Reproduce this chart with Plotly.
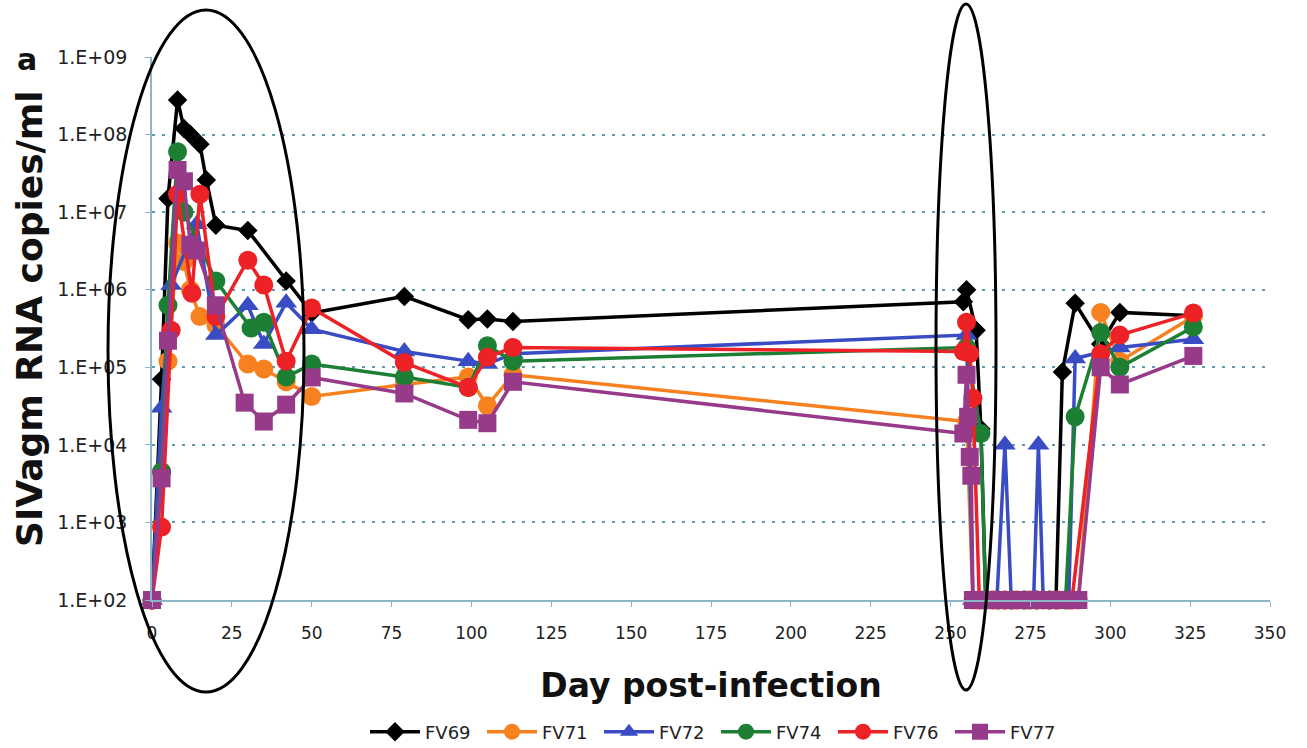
import plotly.graph_objects as go

# ---- viral load data (SIVagm RNA copies/ml) by day post-infection ----
fv69_days = [0, 3, 5, 8, 10, 12, 15, 17, 20, 30, 42, 50, 79, 99, 105, 113,
             254, 255, 258, 259.5, 261, 265, 269, 273, 277, 281, 283, 285, 289, 297, 303, 326]
fv69_vals = [1e2, 7e4, 1.5e7, 2.8e8, 1.2e8, 1.0e8, 7.5e7, 2.6e7, 6.8e6, 5.8e6, 1.3e6, 5e5, 8.2e5, 4.1e5, 4.2e5, 3.9e5,
             7e5, 1.0e6, 3e5, 1.6e4, 1e2, 1e2, 1e2, 1e2, 1e2, 1e2, 1e2, 8.7e4, 6.7e5, 2e5, 5.1e5, 4.6e5]

fv71_days = [0, 3, 5, 8, 10, 12, 15, 20, 30, 35, 42, 50, 79, 99, 105, 113,
             255, 257, 260, 264, 267, 270, 274, 277, 281, 284, 287, 290, 297, 303, 326]
fv71_vals = [1e2, 4.5e3, 1.2e5, 4e6, 2.3e6, 1e6, 4.5e5, 3.5e5, 1.1e5, 9.5e4, 6.5e4, 4.2e4, 6e4, 7.5e4, 3.2e4, 8e4,
             2e4, 1e2, 1e2, 1e2, 1e2, 1e2, 1e2, 1e2, 1e2, 1e2, 1e2, 1e2, 5.1e5, 1.2e5, 4.5e5]

fv72_days = [0, 3, 6, 14, 20, 30, 35, 42, 50, 79, 99, 105, 113,
             255, 257, 261, 264.5, 267, 269, 273, 276, 277.5, 279, 282, 285, 287, 289, 303, 326]
fv72_vals = [1e2, 3e4, 1.15e6, 7e6, 2.6e5, 6.3e5, 2e5, 6.8e5, 3.1e5, 1.6e5, 1.2e5, 1.1e5, 1.5e5,
             2.6e5, 1e2, 1e2, 1e2, 1e4, 1e2, 1e2, 1e2, 1e4, 1e2, 1e2, 1e2, 1e2, 1.3e5, 1.8e5, 2.3e5]

fv74_days = [0, 3, 5, 8, 10, 20, 31, 35, 42, 50, 79, 99, 105, 113,
             255, 259.5, 261, 265, 269, 273, 277, 281, 286, 289, 297, 303, 326]
fv74_vals = [1e2, 4.5e3, 6.3e5, 6e7, 1e7, 1.3e6, 3.2e5, 3.8e5, 7.5e4, 1.1e5, 7.5e4, 5.5e4, 1.9e5, 1.2e5,
             1.8e5, 1.4e4, 1e2, 1e2, 1e2, 1e2, 1e2, 1e2, 1e2, 2.3e4, 2.8e5, 1e5, 3.3e5]

fv76_days = [0, 3, 6, 8, 12.5, 15, 20, 30, 35, 42, 50, 79, 99, 105, 113,
             254, 255, 256, 257, 259, 263, 267, 271, 275, 279, 283, 288, 297, 303, 326]
fv76_vals = [1e2, 8.7e2, 3e5, 1.7e7, 9e5, 1.7e7, 4.5e5, 2.4e6, 1.15e6, 1.2e5, 5.8e5, 1.15e5, 5.5e4, 1.35e5, 1.8e5,
             1.6e5, 3.8e5, 1.5e5, 4e4, 1e2, 1e2, 1e2, 1e2, 1e2, 1e2, 1e2, 1e2, 1.5e5, 2.6e5, 5e5]

fv77_days = [0, 3, 5, 8, 10, 12, 14, 20, 29, 35, 42, 50, 79, 99, 105, 113,
             254, 255, 255.5, 256, 256.5, 257, 260, 263, 266, 269, 272, 275, 278, 281, 284, 287, 290, 297, 303, 326]
fv77_vals = [1e2, 3.7e3, 2.2e5, 3.5e7, 2.5e7, 3.8e6, 3.2e6, 6.3e5, 3.5e4, 2e4, 3.3e4, 7.4e4, 4.6e4, 2.1e4, 1.9e4, 6.5e4,
             1.4e4, 8e4, 2.3e4, 7e3, 4e3, 1e2, 1e2, 1e2, 1e2, 1e2, 1e2, 1e2, 1e2, 1e2, 1e2, 1e2, 1e2, 1e5, 6e4, 1.4e5]

y_tickvals = [1e2, 1e3, 1e4, 1e5, 1e6, 1e7, 1e8, 1e9]
y_ticktext = ["1.E+02", "1.E+03", "1.E+04", "1.E+05", "1.E+06", "1.E+07", "1.E+08", "1.E+09"]

series = [
    ("FV69", fv69_days, fv69_vals, "#000000", "diamond", 15),
    ("FV71", fv71_days, fv71_vals, "#F7801F", "circle", 19),
    ("FV72", fv72_days, fv72_vals, "#3A4CC4", "triangle-up", 19),
    ("FV74", fv74_days, fv74_vals, "#1C7F34", "circle", 19),
    ("FV76", fv76_days, fv76_vals, "#EC2227", "circle", 19),
    ("FV77", fv77_days, fv77_vals, "#973A8A", "square", 18),
]

FONT = "DejaVu Sans"
W, H = 1307, 748
ML, MR, MT, MB = 152, 37, 57, 148
PW, PH = W - ML - MR, H - MT - MB

fig = go.Figure()
for name, xs, ys, color, symbol, size in series:
    fig.add_trace(go.Scatter(
        x=xs, y=ys, name=name, mode="lines+markers",
        line=dict(color=color, width=3.5),
        marker=dict(color=color, symbol=symbol, size=size, line=dict(width=0)),
        cliponaxis=False,
    ))


def px_x(px):
    return (px - ML) / PW


def px_y(py):
    return (H - MB - py) / PH


# highlight ellipses around the acute and treatment-interruption phases
for x0, y0, x1, y1 in [(108, 10, 304, 692), (936, 4, 996, 690)]:
    fig.add_shape(type="circle", xref="paper", yref="paper",
                  x0=px_x(x0), x1=px_x(x1), y0=px_y(y1), y1=px_y(y0),
                  line=dict(color="black", width=3), layer="above")

# panel letter
fig.add_annotation(text="<b>a</b>", xref="paper", yref="paper",
                   x=px_x(27), y=px_y(60), xanchor="center", yanchor="middle",
                   showarrow=False, font=dict(family=FONT, size=30, color="#111"))

# y-axis title
fig.add_annotation(text="<b>SIVagm RNA copies/ml</b>", xref="paper", yref="paper",
                   x=px_x(29), y=px_y(319), xanchor="center", yanchor="middle",
                   textangle=-90, showarrow=False,
                   font=dict(family=FONT, size=36, color="#111"))

axis_col = "#8DB6C8"
fig.update_layout(
    width=W, height=H,
    margin=dict(l=ML, r=MR, t=MT, b=MB, autoexpand=False),
    paper_bgcolor="white", plot_bgcolor="white",
    font=dict(family=FONT, color="#222"),
    xaxis=dict(
        range=[0, 350], tick0=0, dtick=25, showgrid=False, zeroline=False,
        showline=True, linecolor=axis_col, linewidth=1.5,
        ticks="outside", ticklen=5, tickcolor=axis_col,
        tickfont=dict(family=FONT, size=17, color="#222"),
        ticklabelstandoff=12, automargin=False,
        title=dict(text="<b>Day post-infection</b>", standoff=32,
                   font=dict(family=FONT, size=33, color="#111")),
    ),
    yaxis=dict(
        type="log", range=[2, 9], tickvals=y_tickvals, ticktext=y_ticktext,
        showgrid=True, gridcolor="#5E9AB0", gridwidth=2, griddash="3px,7px",
        zeroline=False, showline=True, linecolor=axis_col, linewidth=1.5,
        ticks="outside", ticklen=5, tickcolor=axis_col,
        tickfont=dict(family=FONT, size=19, color="#222"),
        ticklabelstandoff=14, automargin=False,
    ),
    legend=dict(orientation="h", x=px_x(716), xanchor="center",
                y=px_y(732), yanchor="middle",
                font=dict(family=FONT, size=18, color="#222"),
                itemwidth=50, entrywidth=52, bgcolor="rgba(0,0,0,0)"),
    showlegend=True,
)

fig.write_html("out.html")
